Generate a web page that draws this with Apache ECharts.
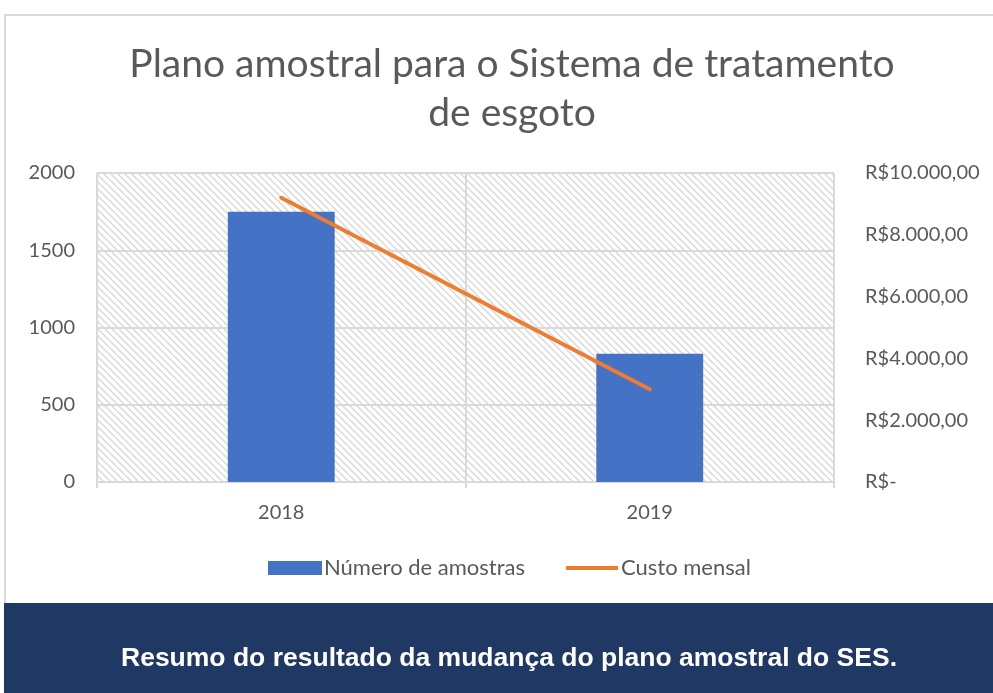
<!DOCTYPE html>
<html>
<head>
<meta charset="utf-8">
<script src="https://cdn.jsdelivr.net/npm/echarts@6/dist/echarts.min.js"></script>
<style>
    html, body { margin: 0; padding: 0; background: #fff; }
    #chart { width: 993px; height: 693px; }
</style>
</head>
<body>
<div id="chart"></div>
<script>
    // dados do gráfico
    const anos = ['2018', '2019'];
    const numeroAmostras = [1750, 830];
    const custoMensal = [9200, 3000];
    const ticksEsquerda = [0, 500, 1000, 1500, 2000];
    const ticksDireita = [0, 2000, 4000, 6000, 8000, 10000];

    // fundo hachurado da área de plotagem
    function hachura() {
        const c = document.createElement('canvas');
        c.width = 7; c.height = 7;
        const ctx = c.getContext('2d');
        ctx.fillStyle = '#ffffff';
        ctx.fillRect(0, 0, 7, 7);
        ctx.strokeStyle = '#d6d6d6';
        ctx.lineWidth = 1.3;
        ctx.beginPath();
        ctx.moveTo(-1, -1); ctx.lineTo(8, 8);
        ctx.moveTo(-8, -1); ctx.lineTo(1, 8);
        ctx.moveTo(6, -1); ctx.lineTo(15, 8);
        ctx.stroke();
        return c;
    }

    function reais(v) {
        if (v === 0) return 'R$-';
        const s = String(v).replace(/\B(?=(\d{3})+(?!\d))/g, '.');
        return 'R$' + s + ',00';
    }

    const cinza = '#595959';
    const chart = echarts.init(document.getElementById('chart'));
    chart.setOption({
        animation: false,
        textStyle: { fontFamily: 'Lato, "Open Sans", sans-serif' },
        graphic: [
            {
                type: 'rect', left: 4, top: 14, z: -10,
                shape: { width: 1000, height: 700 },
                style: { fill: '#fff', stroke: '#d9d9d9', lineWidth: 2 }
            },
            {
                type: 'rect', left: 4, top: 603, z: -5,
                shape: { width: 990, height: 90 },
                style: { fill: '#203864' }
            }
        ],
        title: [
            {
                text: 'Plano amostral para o Sistema de tratamento\nde esgoto',
                left: 507, top: 35, textAlign: 'center',
                textStyle: { fontSize: 39, fontWeight: 'normal', color: cinza, lineHeight: 49, fontFamily: 'Lato' }
            },
            {
                text: 'Resumo do resultado da mudança do plano amostral do SES.',
                left: 504, top: 640, textAlign: 'center',
                textStyle: { fontSize: 26.5, fontWeight: 'bold', color: '#fff', fontFamily: '"Liberation Sans", Arial' }
            }
        ],
        legend: {
            top: 552, left: 263, itemGap: 40,
            itemWidth: 54, itemHeight: 14,
            textStyle: { fontSize: 22, color: cinza, padding: [0, 0, 0, -3] },
            data: [
                { name: 'Número de amostras', icon: 'rect' },
                { name: 'Custo mensal', icon: 'path://M0,0H0.01V0.01H0Z M1,5H53V9H1Z M53.99,13.99H54V14H53.99Z' }
            ]
        },
        grid: {
            left: 97, right: 159, top: 173, bottom: 211,
            show: true, borderWidth: 0,
            backgroundColor: { image: hachura(), repeat: 'repeat' }
        },
        xAxis: {
            type: 'category', data: anos,
            axisLine: { lineStyle: { color: '#d9d9d9', width: 2 } },
            axisTick: { show: true, length: 6, lineStyle: { color: '#d9d9d9', width: 2 } },
            splitLine: { show: true, lineStyle: { color: '#d9d9d9', width: 2 } },
            axisLabel: { fontSize: 20, color: cinza, margin: 21 }
        },
        yAxis: [
            {
                type: 'value', min: ticksEsquerda[0], max: ticksEsquerda[ticksEsquerda.length - 1], interval: 500,
                axisLine: { show: false }, axisTick: { show: false },
                splitLine: { lineStyle: { color: '#d9d9d9', width: 2 } },
                axisLabel: { fontSize: 20, color: cinza, margin: 22, formatter: v => String(v) }
            },
            {
                type: 'value', min: ticksDireita[0], max: ticksDireita[ticksDireita.length - 1], interval: 2000,
                axisLine: { show: false }, axisTick: { show: false },
                splitLine: { show: false },
                axisLabel: { fontSize: 20, color: cinza, margin: 31, formatter: reais }
            }
        ],
        series: [
            {
                name: 'Número de amostras', type: 'bar', data: numeroAmostras,
                barWidth: '29%', itemStyle: { color: '#4472c4' }
            },
            {
                name: 'Custo mensal', type: 'line', yAxisIndex: 1, data: custoMensal,
                showSymbol: false, symbol: 'none',
                lineStyle: { color: '#ed7d31', width: 4, cap: 'round' },
                itemStyle: { color: '#ed7d31' }
            }
        ]
    });
</script>
</body>
</html>
